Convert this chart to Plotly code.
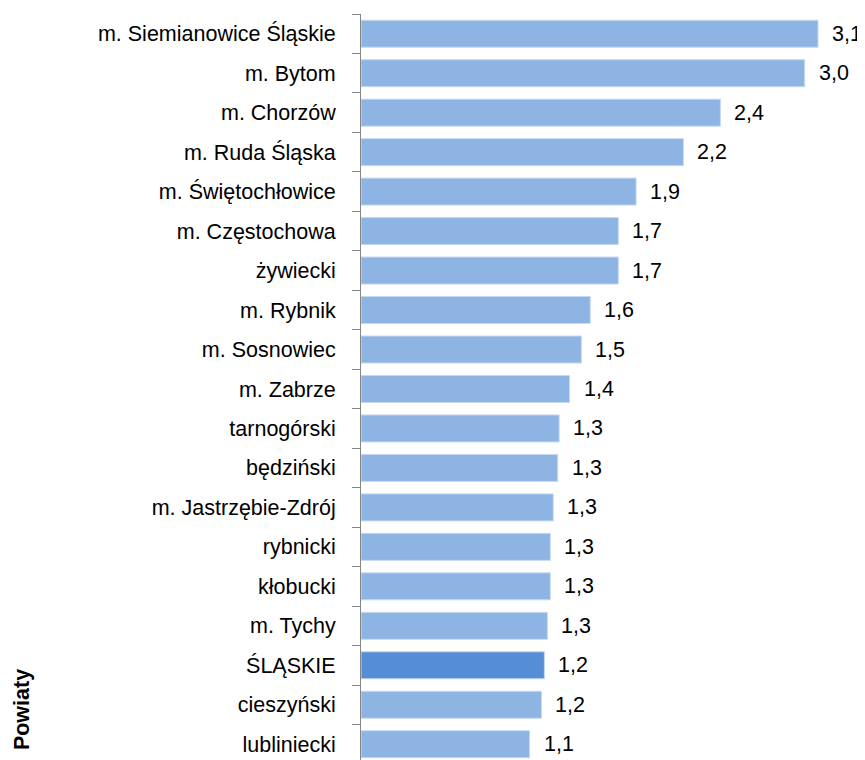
import plotly.graph_objects as go

# powiaty sorted top to bottom as in the chart
powiaty = ['m. Siemianowice Śląskie', 'm. Bytom', 'm. Chorzów', 'm. Ruda Śląska',
           'm. Świętochłowice', 'm. Częstochowa', 'żywiecki', 'm. Rybnik',
           'm. Sosnowiec', 'm. Zabrze', 'tarnogórski', 'będziński',
           'm. Jastrzębie-Zdrój', 'rybnicki', 'kłobucki', 'm. Tychy',
           'ŚLĄSKIE', 'cieszyński', 'lubliniecki']
wartosci = [3.09, 3.00, 2.43, 2.18, 1.86, 1.74, 1.74, 1.55, 1.49, 1.41,
            1.34, 1.33, 1.30, 1.28, 1.28, 1.26, 1.24, 1.22, 1.14]
etykiety = ['3,1', '3,0', '2,4', '2,2', '1,9', '1,7', '1,7', '1,6', '1,5', '1,4',
            '1,3', '1,3', '1,3', '1,3', '1,3', '1,3', '1,2', '1,2', '1,1']

kolory = ['#558ED5' if p == 'ŚLĄSKIE' else '#8EB4E3' for p in powiaty]

fig = go.Figure()
fig.add_trace(go.Bar(
    x=wartosci,
    y=powiaty,
    orientation='h',
    marker=dict(color=kolory, line=dict(color='#C6D9F1', width=1)),
    hoverinfo='x+y',
))

annotations = []
for p, v, t in zip(powiaty, wartosci, etykiety):
    annotations.append(dict(x=v, y=p, text=t, showarrow=False, xanchor='left',
                            xshift=12, font=dict(size=21.5, color='#000000')))

# axis title sits in the bottom-left corner
annotations.append(dict(text='<b>Powiaty</b>', xref='paper', yref='paper',
                        x=-0.715, y=0.067, xanchor='center', yanchor='middle',
                        textangle=-90, showarrow=False,
                        font=dict(size=21.5, color='#000000')))

# page body has an 8px margin, so the figure is a bit smaller than the window
fig.update_layout(
    width=857, height=752,
    margin=dict(l=353, r=30, t=6, b=0),
    paper_bgcolor='white', plot_bgcolor='white',
    font=dict(family='Liberation Sans, Arial, sans-serif', size=21.5, color='#000000'),
    bargap=0.316,
    showlegend=False,
    annotations=annotations,
    xaxis=dict(range=[0, 3.205], visible=False),
    yaxis=dict(type='category', range=[18.4, -0.5], showline=True, linecolor='#868686',
               linewidth=1, ticks='outside', ticklen=8, tickcolor='#868686',
               tickson='boundaries', ticklabelstandoff=20, showgrid=False),
)

fig.write_html("out.html")
